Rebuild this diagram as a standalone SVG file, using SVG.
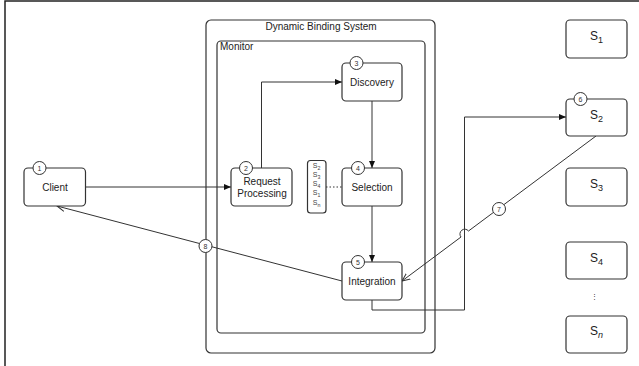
<svg xmlns="http://www.w3.org/2000/svg" width="639" height="366" viewBox="0 0 639 366">
<style>
.box{fill:#fff;stroke:#333;stroke-width:1.2}
.frame{fill:none;stroke:#333;stroke-width:1.2}
.ln{fill:none;stroke:#333;stroke-width:1}
.t{font-family:"Liberation Sans",Arial,sans-serif;font-size:10px;fill:#222;text-anchor:middle}
.tl{font-family:"Liberation Sans",Arial,sans-serif;font-size:10px;fill:#222}
.num{fill:#fff;stroke:#333;stroke-width:1}
.nt{font-family:"Liberation Sans",Arial,sans-serif;font-size:7px;fill:#333;text-anchor:middle}
.st{font-family:"Liberation Sans",Arial,sans-serif;font-size:7px;fill:#444;text-anchor:middle}
.sub{font-size:75%}
.s{font-family:"Liberation Sans",Arial,sans-serif;font-size:12px;fill:#222;text-anchor:middle}
</style>
<defs>
<marker id="fa" markerWidth="8" markerHeight="8" refX="7" refY="4" orient="auto" markerUnits="userSpaceOnUse">
<path d="M0,1 L7,4 L0,7 Z" fill="#111"/>
</marker>
<marker id="oa" markerWidth="10" markerHeight="10" refX="8" refY="5" orient="auto" markerUnits="userSpaceOnUse">
<path d="M0,1.5 L8,5 L0,8.5" fill="none" stroke="#333" stroke-width="1"/>
</marker>
</defs>
<rect width="639" height="366" fill="#fff"/>
<path d="M5,366 V1 H639" fill="none" stroke="#222" stroke-width="1.5"/>

<g id="dbs">
<rect class="frame" x="206" y="20" width="229" height="333" rx="5"/>
<text class="t" x="321" y="30">Dynamic Binding System</text>
</g>
<g id="monitor">
<rect class="frame" x="217" y="41" width="208" height="292" rx="4"/>
<text class="tl" x="220" y="50">Monitor</text>
</g>

<g id="connectors">
<line class="ln" x1="86" y1="187" x2="231" y2="187" marker-end="url(#fa)"/>
<polyline class="ln" points="261.5,168 261.5,82 342,82" marker-end="url(#fa)"/>
<line class="ln" x1="372" y1="101" x2="372" y2="168" marker-end="url(#fa)"/>
<line class="ln" x1="372" y1="206" x2="372" y2="262" marker-end="url(#fa)"/>
<line class="ln" x1="326" y1="187" x2="342" y2="187" stroke-dasharray="1.5,2"/>
<polyline class="ln" points="372,300 372,310 464.5,310 464.5,117 566,117" marker-end="url(#fa)"/>
<path class="ln" d="M596,136 L468.5,231 A3.5,3.5 0 0 0 461,237 L402,281" marker-end="url(#oa)"/>
<line class="ln" x1="342" y1="281" x2="57" y2="206" marker-end="url(#oa)"/>
<circle class="num" cx="499" cy="209" r="6.5"/>
<text class="nt" x="499" y="211.5">7</text>
<circle class="num" cx="205.5" cy="246" r="6.5"/>
<text class="nt" x="205.5" y="248.5">8</text>
</g>

<g id="client">
<rect class="box" x="24" y="168" width="61.5" height="38" rx="4"/>
<circle class="num" cx="39.5" cy="168" r="6.5"/>
<text class="nt" x="39.5" y="170.5">1</text>
<text class="t" x="55" y="191">Client</text>
</g>
<g id="request">
<rect class="box" x="231" y="168" width="61" height="38" rx="4"/>
<circle class="num" cx="246" cy="168" r="6.5"/>
<text class="nt" x="246" y="170.5">2</text>
<text class="t" x="262" y="185">Request</text>
<text class="t" x="262" y="197">Processing</text>
</g>
<g id="discovery">
<rect class="box" x="342" y="63" width="60" height="38" rx="4"/>
<circle class="num" cx="356.5" cy="63" r="6.5"/>
<text class="nt" x="356.5" y="65.5">3</text>
<text class="t" x="372" y="86">Discovery</text>
</g>
<g id="selection">
<rect class="box" x="342" y="168" width="60" height="38" rx="4"/>
<circle class="num" cx="358" cy="168" r="6.5"/>
<text class="nt" x="358" y="170.5">4</text>
<text class="t" x="372" y="191">Selection</text>
</g>
<g id="integration">
<rect class="box" x="342" y="262" width="60" height="38" rx="4"/>
<circle class="num" cx="358" cy="262" r="6.5"/>
<text class="nt" x="358" y="264.5">5</text>
<text class="t" x="372" y="285">Integration</text>
</g>
<g id="slist">
<rect class="box" x="307.5" y="160.5" width="18.5" height="52.5" rx="3"/>
<text class="st" x="316.5" y="168">S<tspan class="sub" dy="1.5">2</tspan></text>
<text class="st" x="316.5" y="177">S<tspan class="sub" dy="1.5">3</tspan></text>
<text class="st" x="316.5" y="186">S<tspan class="sub" dy="1.5">4</tspan></text>
<text class="st" x="316.5" y="195">S<tspan class="sub" dy="1.5">1</tspan></text>
<text class="st" x="316.5" y="205">S<tspan class="sub" dy="1.5">n</tspan></text>
</g>
<g id="s1">
<rect class="box" x="566" y="20" width="61" height="38" rx="4"/>
<text class="s" x="596.5" y="40">S<tspan class="sub" dy="3">1</tspan></text>
</g>
<g id="s2">
<rect class="box" x="566" y="99" width="61" height="37" rx="4"/>
<circle class="num" cx="580.5" cy="99" r="6.5"/>
<text class="nt" x="580.5" y="101.5">6</text>
<text class="s" x="596.5" y="119">S<tspan class="sub" dy="3">2</tspan></text>
</g>
<g id="s3">
<rect class="box" x="566" y="168" width="61" height="38" rx="4"/>
<text class="s" x="596.5" y="188">S<tspan class="sub" dy="3">3</tspan></text>
</g>
<g id="s4">
<rect class="box" x="566" y="242" width="61" height="37" rx="4"/>
<text class="s" x="596.5" y="262">S<tspan class="sub" dy="3">4</tspan></text>
</g>
<g id="dots">
<text class="nt" x="594.5" y="299" font-size="8" fill="#777">⋮</text>
</g>
<g id="sn">
<rect class="box" x="566" y="316" width="61" height="37" rx="4"/>
<text class="s" x="596.5" y="335">S<tspan class="sub" dy="3" font-style="italic">n</tspan></text>
</g>
</svg>
